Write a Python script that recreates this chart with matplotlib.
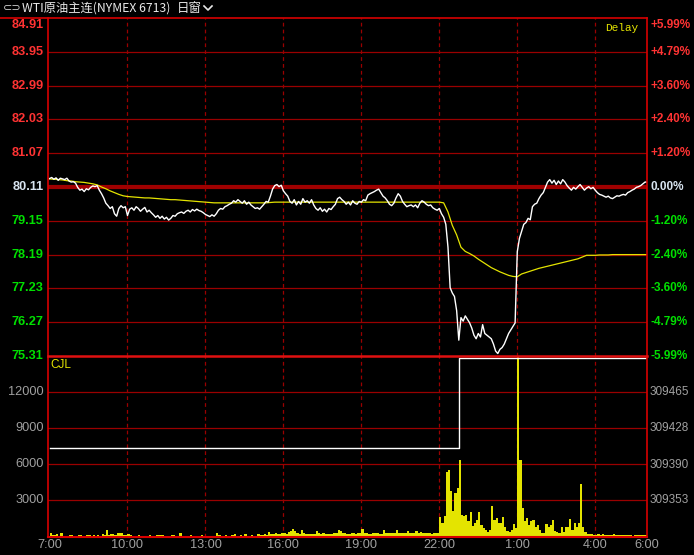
import matplotlib
matplotlib.use('Agg')
import matplotlib.pyplot as plt
from matplotlib.lines import Line2D

# ---- data (minutes after 7:00, 5-minute samples) ----
price_5m = [
    80.35, 80.38, 80.33, 80.37, 80.30, 80.36, 80.34, 80.32, 80.36, 80.28, 80.25, 80.26,  # 7:00
    80.22, 80.10, 80.02, 80.05, 79.98, 80.06, 80.03, 80.10, 80.14, 80.12, 80.15, 80.02,  # 8:00
    79.92, 79.80, 79.65, 79.58, 79.50, 79.55, 79.35, 79.28, 79.50, 79.58, 79.52, 79.55,  # 9:00
    79.30, 79.48, 79.52, 79.45, 79.55, 79.50, 79.42, 79.48, 79.53, 79.40, 79.45, 79.38,  # 10:00
    79.32, 79.25, 79.30, 79.22, 79.28, 79.20, 79.25, 79.17, 79.22, 79.30, 79.28, 79.35,  # 11:00
    79.38, 79.40, 79.36, 79.42, 79.45, 79.40, 79.47, 79.43, 79.48, 79.44, 79.42, 79.38,  # 12:00
    79.33, 79.30, 79.27, 79.32, 79.28, 79.35, 79.45, 79.50, 79.48, 79.55, 79.58, 79.62,  # 13:00
    79.65, 79.72, 79.68, 79.75, 79.70, 79.65, 79.72, 79.62, 79.68, 79.60, 79.55, 79.50,  # 14:00
    79.52, 79.48, 79.55, 79.62, 79.70, 79.68, 79.85, 80.05, 80.15, 80.18, 80.12, 80.16,  # 15:00
    80.00, 79.92, 79.85, 79.70, 79.65, 79.75, 79.60, 79.70, 79.62, 79.78, 79.68, 79.72,  # 16:00
    79.65, 79.75, 79.60, 79.50, 79.45, 79.52, 79.42, 79.48, 79.40, 79.50, 79.47, 79.55,  # 17:00
    79.62, 79.78, 79.82, 79.75, 79.70, 79.62, 79.68, 79.60, 79.72, 79.65, 79.62, 79.70,  # 18:00
    79.68, 79.75, 79.72, 79.88, 79.92, 79.95, 79.98, 80.02, 80.05, 79.95, 79.85, 79.80,  # 19:00
    79.72, 79.62, 79.58, 79.65, 79.80, 79.92, 79.85, 79.70, 79.62, 79.55, 79.58, 79.60,  # 20:00
    79.55, 79.60, 79.52, 79.65, 79.72, 79.68, 79.62, 79.58, 79.60, 79.52, 79.48, 79.45,  # 21:00
    79.50, 79.35, 79.25, 79.05, 78.40, 77.25, 77.10, 77.00, 76.60, 75.76, 76.40, 76.30,  # 22:00
    76.45, 76.35, 76.25, 76.10, 75.90, 75.80, 75.95, 75.85, 76.20, 75.95, 75.90, 75.85,  # 23:00
    75.80, 75.65, 75.45, 75.38, 75.50, 75.55, 75.65, 75.80, 75.95, 76.05, 76.15, 76.25,  # 0:00
    78.27, 78.65, 78.85, 79.05, 79.10, 79.22, 79.18, 79.55, 79.62, 79.65, 79.78, 79.88,  # 1:00
    79.95, 80.10, 80.25, 80.32, 80.22, 80.30, 80.18, 80.28, 80.20, 80.32, 80.25, 80.15,  # 2:00
    80.08, 80.02, 80.10, 80.05, 80.12, 80.18, 80.10, 80.02, 80.08, 80.12, 80.06, 80.10,  # 3:00
    80.02, 79.95, 79.90, 79.88, 79.85, 79.82, 79.85, 79.80, 79.78, 79.82, 79.86, 79.85,  # 4:00
    79.88, 79.90, 79.88, 79.95, 79.98, 80.02, 80.05, 80.10, 80.12, 80.15, 80.20, 80.25,  # 5:00
    80.25,
]

# average price, 10-minute samples
avg_10m = [
    80.34, 80.33, 80.32, 80.31, 80.29, 80.28,
    80.26, 80.25, 80.24, 80.22, 80.20, 80.17,
    80.11, 80.06, 80.00, 79.95, 79.90, 79.86,
    79.84, 79.83, 79.82, 79.81, 79.80, 79.80,
    79.79, 79.78, 79.77, 79.76, 79.75, 79.75,
    79.74, 79.73, 79.72, 79.71, 79.70, 79.69,
    79.68, 79.67, 79.66, 79.66, 79.66, 79.66,
    79.66, 79.66, 79.66, 79.66, 79.66, 79.66,
    79.66, 79.66, 79.66, 79.67, 79.68, 79.68,
    79.68, 79.68, 79.68, 79.68, 79.68, 79.68,
    79.68, 79.68, 79.68, 79.68, 79.68, 79.68,
    79.68, 79.68, 79.68, 79.68, 79.68, 79.68,
    79.68, 79.68, 79.68, 79.68, 79.68, 79.68,
    79.68, 79.68, 79.68, 79.68, 79.68, 79.68,
    79.68, 79.68, 79.68, 79.68, 79.68, 79.68,
    79.68, 79.66, 79.40, 79.02, 78.75, 78.40,
    78.28, 78.22, 78.15, 78.06, 77.98, 77.90,
    77.82, 77.76, 77.70, 77.65, 77.60, 77.57,
    77.56, 77.64, 77.68, 77.72, 77.76, 77.80,
    77.83, 77.86, 77.89, 77.92, 77.95, 77.98,
    78.01, 78.04, 78.07, 78.12, 78.17, 78.17,
    78.17, 78.18, 78.18, 78.18, 78.19, 78.19,
    78.19, 78.19, 78.19, 78.19, 78.19, 78.19,
    78.19,
]

vol_5m = [
    280, 90, 120, 220, 80, 250, 60, 80, 60, 100, 90, 80,
    70, 90, 120, 80, 60, 90, 100, 80, 140, 70, 90, 80,
    170, 90, 500, 160, 200, 170, 150, 300, 320, 280, 120, 100,
    220, 90, 70, 80, 60, 90, 70, 80, 60, 80, 90, 70,
    80, 110, 90, 120, 90, 80, 70, 60, 90, 110, 70, 80,
    280, 70, 60, 80, 70, 90, 60, 70, 60, 80, 90, 70,
    80, 70, 60, 80, 60, 330, 90, 80, 70, 160, 80, 70,
    90, 170, 80, 70, 90, 60, 200, 80, 70, 90, 80, 60,
    170, 90, 120, 200, 150, 390, 170, 200, 250, 180, 200, 250,
    280, 200, 360, 450, 640, 420, 250, 220, 500, 280, 200, 220,
    170, 220, 200, 440, 250, 200, 280, 220, 180, 200, 240, 250,
    280, 500, 440, 250, 300, 220, 200, 250, 280, 200, 250, 320,
    640, 250, 280, 220, 200, 250, 300, 280, 240, 220, 560, 280,
    300, 250, 250, 320, 560, 280, 250, 300, 280, 440, 330, 300,
    280, 440, 300, 360, 280, 300, 250, 320, 200, 280, 250, 330,
    1580, 1100, 1670, 5400, 5560, 3750, 2080, 3610, 4030, 6390, 1800, 1670,
    1800, 1250, 2030, 900, 1100, 1390, 2030, 970, 700, 560, 370, 560,
    2500, 1390, 1530, 1100, 1100, 1640, 830, 470, 400, 560, 1030, 700,
    15000, 6390, 2360, 1250, 1530, 970, 1250, 1390, 830, 970, 560, 280,
    280, 1060, 830, 970, 1390, 470, 400, 280, 780, 400, 830, 830,
    1450, 560, 1100, 830, 1100, 4360, 830, 370, 200, 170, 200, 150,
    150, 200, 120, 170, 100, 150, 120, 90, 170, 100, 120, 90,
    100, 120, 90, 150, 100, 80, 120, 90, 100, 130, 90, 150,
    100,
]

oi_time = [0, 945, 1380]
oi_value = [309407, 309501, 309501]

price_ticks = [84.91, 83.95, 82.99, 82.03, 81.07, 80.11, 79.15, 78.19, 77.23, 76.27, 75.31]
pct_labels = ['+5.99%', '+4.79%', '+3.60%', '+2.40%', '+1.20%', '0.00%',
              '-1.20%', '-2.40%', '-3.60%', '-4.79%', '-5.99%']
ref_price = 80.11
vol_ticks = [12000, 9000, 6000, 3000]
oi_ticks = [309465, 309428, 309390, 309353]
time_ticks = [0, 180, 360, 540, 720, 900, 1080, 1260, 1380]
time_labels = ['7:00', '10:00', '13:00', '16:00', '19:00', '22:00', '1:00', '4:00', '6:00']

price_t = [5 * i for i in range(len(price_5m))]
avg_t = [10 * i for i in range(len(avg_10m))]
vol_t = [5 * i for i in range(len(vol_5m))]

# ---- styling ----
BG = 'black'
GRID = '#9a0000'
BORDER = '#d80000'
RED = '#ff3333'
GREEN = '#00e000'
FLAT = '#d8e4f0'
GRAY = '#a0a0a0'
YEL = '#e4e400'
FS = 9.2
FS_R = 8.5
W, H = 694, 555

fig = plt.figure(figsize=(W / 100, H / 100), dpi=100, facecolor=BG)

def frac(x0, y_top, x1, y_bot):
    return [x0 / W, 1 - y_bot / H, (x1 - x0) / W, (y_bot - y_top) / H]

ax_p = fig.add_axes(frac(47.8, 18, 647.2, 356))
ax_v = fig.add_axes(frac(47.8, 356, 647.2, 536.5))
ax_oi = ax_v.twinx()

for ax in (ax_p, ax_v, ax_oi):
    ax.set_facecolor(BG)
    ax.set_xlim(-4, 1380)
    ax.tick_params(length=0)
    for s in ax.spines.values():
        s.set_visible(False)
ax_oi.patch.set_visible(False)

# price panel
ax_p.set_ylim(75.31, 84.91)
ax_p.set_xticks([])
ax_p.set_yticks([])
for v in price_ticks[1:-1]:
    if v == ref_price:
        ax_p.axhline(v, color='#a00000', lw=3.0, zorder=1)
    else:
        ax_p.axhline(v, color=GRID, lw=0.9, zorder=1)
for t in time_ticks[1:-1]:
    ax_p.axvline(t, color=GRID, lw=0.9, dashes=(3, 2.5), zorder=1)
ax_p.plot(avg_t, avg_10m, color=YEL, lw=0.9, zorder=3)
ax_p.plot(price_t, price_5m, color='white', lw=1.0, zorder=4)

for i, (v, pl) in enumerate(zip(price_ticks, pct_labels)):
    c = RED if v > ref_price else (FLAT if v == ref_price else GREEN)
    dy = -5 if i == 0 else 0
    ax_p.annotate(f'{v:.2f}', xy=(0, v), xycoords=('axes fraction', 'data'),
                  xytext=(-3, dy), textcoords='offset points', ha='right', va='center',
                  color=c, fontsize=FS, fontweight='bold', family='Liberation Sans')
    ax_p.annotate(pl, xy=(1, v), xycoords=('axes fraction', 'data'),
                  xytext=(2.5, dy), textcoords='offset points', ha='left', va='center',
                  color=c, fontsize=FS_R, fontweight='bold', family='Liberation Sans')

# volume panel
ax_v.set_ylim(0, 15000)
ax_v.set_yticks([])
for v in vol_ticks:
    ax_v.axhline(v, color=GRID, lw=0.9, zorder=1)
for t in time_ticks[1:-1]:
    ax_v.axvline(t, color=GRID, lw=0.9, dashes=(3, 2.5), zorder=1)
ax_v.bar(vol_t, vol_5m, width=5, align='edge', color=YEL, linewidth=0, zorder=3)
ax_v.set_xticks(time_ticks)
ax_v.set_xticklabels(time_labels, color=GRAY, fontsize=FS, family='Liberation Sans')
ax_v.tick_params(axis='x', pad=2)
for v in vol_ticks:
    ax_v.annotate(str(v), xy=(0, v), xycoords=('axes fraction', 'data'),
                  xytext=(-3, 0), textcoords='offset points', ha='right', va='center',
                  color=GRAY, fontsize=FS, family='Liberation Sans')

ax_oi.set_ylim(309315.5, 309502.6)
ax_oi.set_yticks([])
ax_oi.plot(oi_time, oi_value, color='white', lw=1.0, drawstyle='steps-post', zorder=4)
for v in oi_ticks:
    ax_oi.annotate(str(v), xy=(1, v), xycoords=('axes fraction', 'data'),
                   xytext=(2, 0), textcoords='offset points', ha='left', va='center',
                   color=GRAY, fontsize=FS_R, family='Liberation Sans')

# frame lines
def fline(xs, ys, color, lw):
    fig.add_artist(Line2D([x / W for x in xs], [1 - y / H for y in ys],
                          color=color, lw=lw, transform=fig.transFigure))

fline([0, 647.2], [18, 18], BORDER, 1.2)
fline([47.8, 47.8], [18, 537], BORDER, 1.2)
fline([647.2, 647.2], [18, 537], BORDER, 1.2)
fline([47.8, 647.2], [356, 356], '#e01010', 1.8)
fline([47.8, 647.2], [537, 537], BORDER, 1.5)

# header texts
fig.text(3 / W, 1 - 8.5 / H, '⊂⊃', color='#d0d0d0', fontsize=8, va='center', ha='left',
         family='DejaVu Sans')
fig.text(22 / W, 1 - 8.5 / H, 'WTI原油主连(NYMEX 6713)', color='#e8e8e8', fontsize=8.8,
         va='center', ha='left', family=['Noto Sans CJK SC', 'DejaVu Sans'])
fig.text(177 / W, 1 - 8.5 / H, '日窗', color='#e8e8e8', fontsize=9,
         va='center', ha='left', family=['Noto Sans CJK SC', 'DejaVu Sans'])
fline([204, 208, 212], [6, 10, 6], '#e8e8e8', 1.2)
fig.text(622 / W, 1 - 28 / H, 'Delay', color=YEL, fontsize=8, va='center', ha='center',
         family='Liberation Mono')
fig.text(50 / W, 1 - 365 / H, 'CJL', color=YEL, fontsize=8.5, va='center', ha='left',
         family='Liberation Sans')

fig.savefig('out.png', dpi=100, facecolor=BG)
